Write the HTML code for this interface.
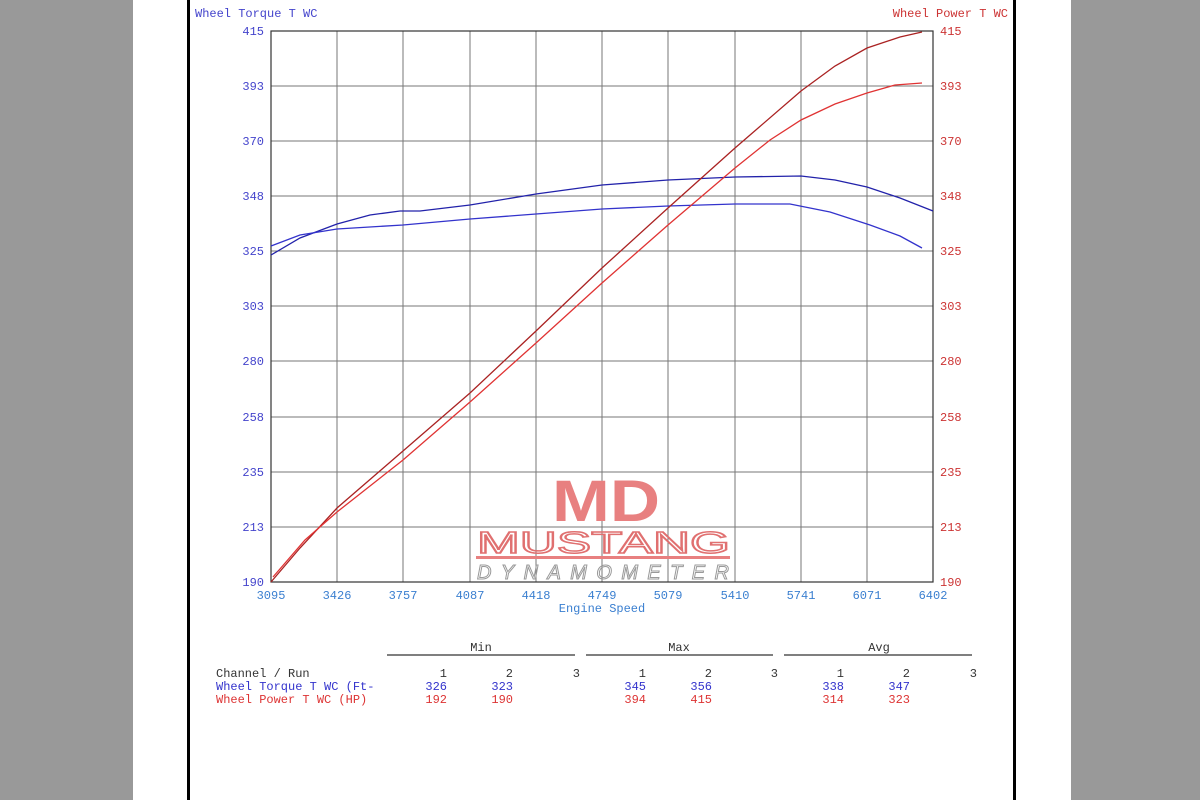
<!DOCTYPE html>
<html><head><meta charset="utf-8"><style>
html,body{margin:0;padding:0;background:#999;}
svg{display:block}
text{font-family:"Liberation Mono",monospace;font-size:12px}
</style></head><body>
<svg width="1200" height="800" xmlns="http://www.w3.org/2000/svg">
<rect x="0" y="0" width="1200" height="800" fill="#999"/>
<rect x="133" y="0" width="938" height="800" fill="#fff"/>
<rect x="187" y="0" width="3" height="800" fill="#000"/>
<rect x="1013" y="0" width="3" height="800" fill="#000"/>
<!-- grid -->
<g stroke="#777" stroke-width="1">
<line x1="337" y1="31" x2="337" y2="582"/><line x1="403" y1="31" x2="403" y2="582"/><line x1="470" y1="31" x2="470" y2="582"/><line x1="536" y1="31" x2="536" y2="582"/><line x1="602" y1="31" x2="602" y2="582"/><line x1="668" y1="31" x2="668" y2="582"/><line x1="735" y1="31" x2="735" y2="582"/><line x1="801" y1="31" x2="801" y2="582"/><line x1="867" y1="31" x2="867" y2="582"/>
<line x1="271" y1="86" x2="933" y2="86"/><line x1="271" y1="141" x2="933" y2="141"/><line x1="271" y1="196" x2="933" y2="196"/><line x1="271" y1="251" x2="933" y2="251"/><line x1="271" y1="306" x2="933" y2="306"/><line x1="271" y1="361" x2="933" y2="361"/><line x1="271" y1="417" x2="933" y2="417"/><line x1="271" y1="472" x2="933" y2="472"/><line x1="271" y1="527" x2="933" y2="527"/>
</g>
<rect x="271" y="31" width="662" height="551" fill="none" stroke="#333" stroke-width="1.2"/>
<!-- logo -->
<g fill="#e88080">
<text x="552" y="521" textLength="108" lengthAdjust="spacingAndGlyphs" style="font-family:'Liberation Sans',sans-serif;font-size:58px;font-weight:bold">MD</text>
<text x="477" y="553" textLength="253" lengthAdjust="spacingAndGlyphs" fill="none" stroke="#e07070" stroke-width="1.5" style="font-family:'Liberation Sans',sans-serif;font-size:31px">MUSTANG</text>
<rect x="476" y="556" width="254" height="3"/>
</g>
<text x="477" y="579" textLength="252" lengthAdjust="spacing" fill="none" stroke="#999" stroke-width="1" style="font-family:'Liberation Sans',sans-serif;font-size:20px;font-style:italic">DYNAMOMETER</text>
<!-- axis titles -->
<text x="195" y="17" fill="#4444cc">Wheel Torque T WC</text>
<text x="1008" y="17" fill="#cc3333" text-anchor="end">Wheel Power T WC</text>
<g fill="#4444cc" text-anchor="end">
<text x="264" y="35">415</text><text x="264" y="90">393</text><text x="264" y="145">370</text><text x="264" y="200">348</text><text x="264" y="255">325</text><text x="264" y="310">303</text><text x="264" y="365">280</text><text x="264" y="421">258</text><text x="264" y="476">235</text><text x="264" y="531">213</text><text x="264" y="586">190</text>
</g>
<g fill="#cc3333">
<text x="940" y="35">415</text><text x="940" y="90">393</text><text x="940" y="145">370</text><text x="940" y="200">348</text><text x="940" y="255">325</text><text x="940" y="310">303</text><text x="940" y="365">280</text><text x="940" y="421">258</text><text x="940" y="476">235</text><text x="940" y="531">213</text><text x="940" y="586">190</text>
</g>
<g fill="#3a7fd0" text-anchor="middle">
<text x="271" y="599">3095</text><text x="337" y="599">3426</text><text x="403" y="599">3757</text><text x="470" y="599">4087</text><text x="536" y="599">4418</text><text x="602" y="599">4749</text><text x="668" y="599">5079</text><text x="735" y="599">5410</text><text x="801" y="599">5741</text><text x="867" y="599">6071</text><text x="933" y="599">6402</text>
<text x="602" y="612">Engine Speed</text>
</g>
<!-- curves -->
<g fill="none" stroke-width="1.3">
<polyline stroke="#2222aa" points="271,255 300,238 337,224 370,215 400,211 420,211 470,205 536,194 602,185 668,180 735,177 801,176 835,180 867,187 900,198 933,211"/>
<polyline stroke="#3333cc" points="271,246 300,235 337,229 403,225 470,219 536,214 602,209 668,206 735,204 790,204 830,212 870,225 900,236 922,248"/>
<polyline stroke="#aa2222" points="271,582 300,548 337,508 403,451 470,393 536,331 602,268 668,208 735,148 801,91 835,66 867,48 900,37 922,32"/>
<polyline stroke="#e03333" points="273,577 305,540 337,512 403,460 470,402 536,343 602,283 668,225 735,168 770,140 801,120 835,104 867,93 895,85 922,83"/>
</g>
<!-- table -->
<g stroke="#333" stroke-width="1.2">
<line x1="387" y1="655" x2="575" y2="655"/><line x1="586" y1="655" x2="773" y2="655"/><line x1="784" y1="655" x2="972" y2="655"/>
</g>
<g fill="#333">
<text x="481" y="651" text-anchor="middle">Min</text><text x="679" y="651" text-anchor="middle">Max</text><text x="879" y="651" text-anchor="middle">Avg</text>
<text x="216" y="677">Channel / Run</text>
</g>
<g fill="#333" text-anchor="end">
<text x="447" y="677">1</text><text x="513" y="677">2</text><text x="580" y="677">3</text>
<text x="646" y="677">1</text><text x="712" y="677">2</text><text x="778" y="677">3</text>
<text x="844" y="677">1</text><text x="910" y="677">2</text><text x="977" y="677">3</text>
</g>
<g fill="#3333cc">
<text x="216" y="690">Wheel Torque T WC (Ft-</text>
<g text-anchor="end"><text x="447" y="690">326</text><text x="513" y="690">323</text><text x="646" y="690">345</text><text x="712" y="690">356</text><text x="844" y="690">338</text><text x="910" y="690">347</text></g>
</g>
<g fill="#dd3333">
<text x="216" y="703">Wheel Power T WC (HP)</text>
<g text-anchor="end"><text x="447" y="703">192</text><text x="513" y="703">190</text><text x="646" y="703">394</text><text x="712" y="703">415</text><text x="844" y="703">314</text><text x="910" y="703">323</text></g>
</g>
</svg>
</body></html>
